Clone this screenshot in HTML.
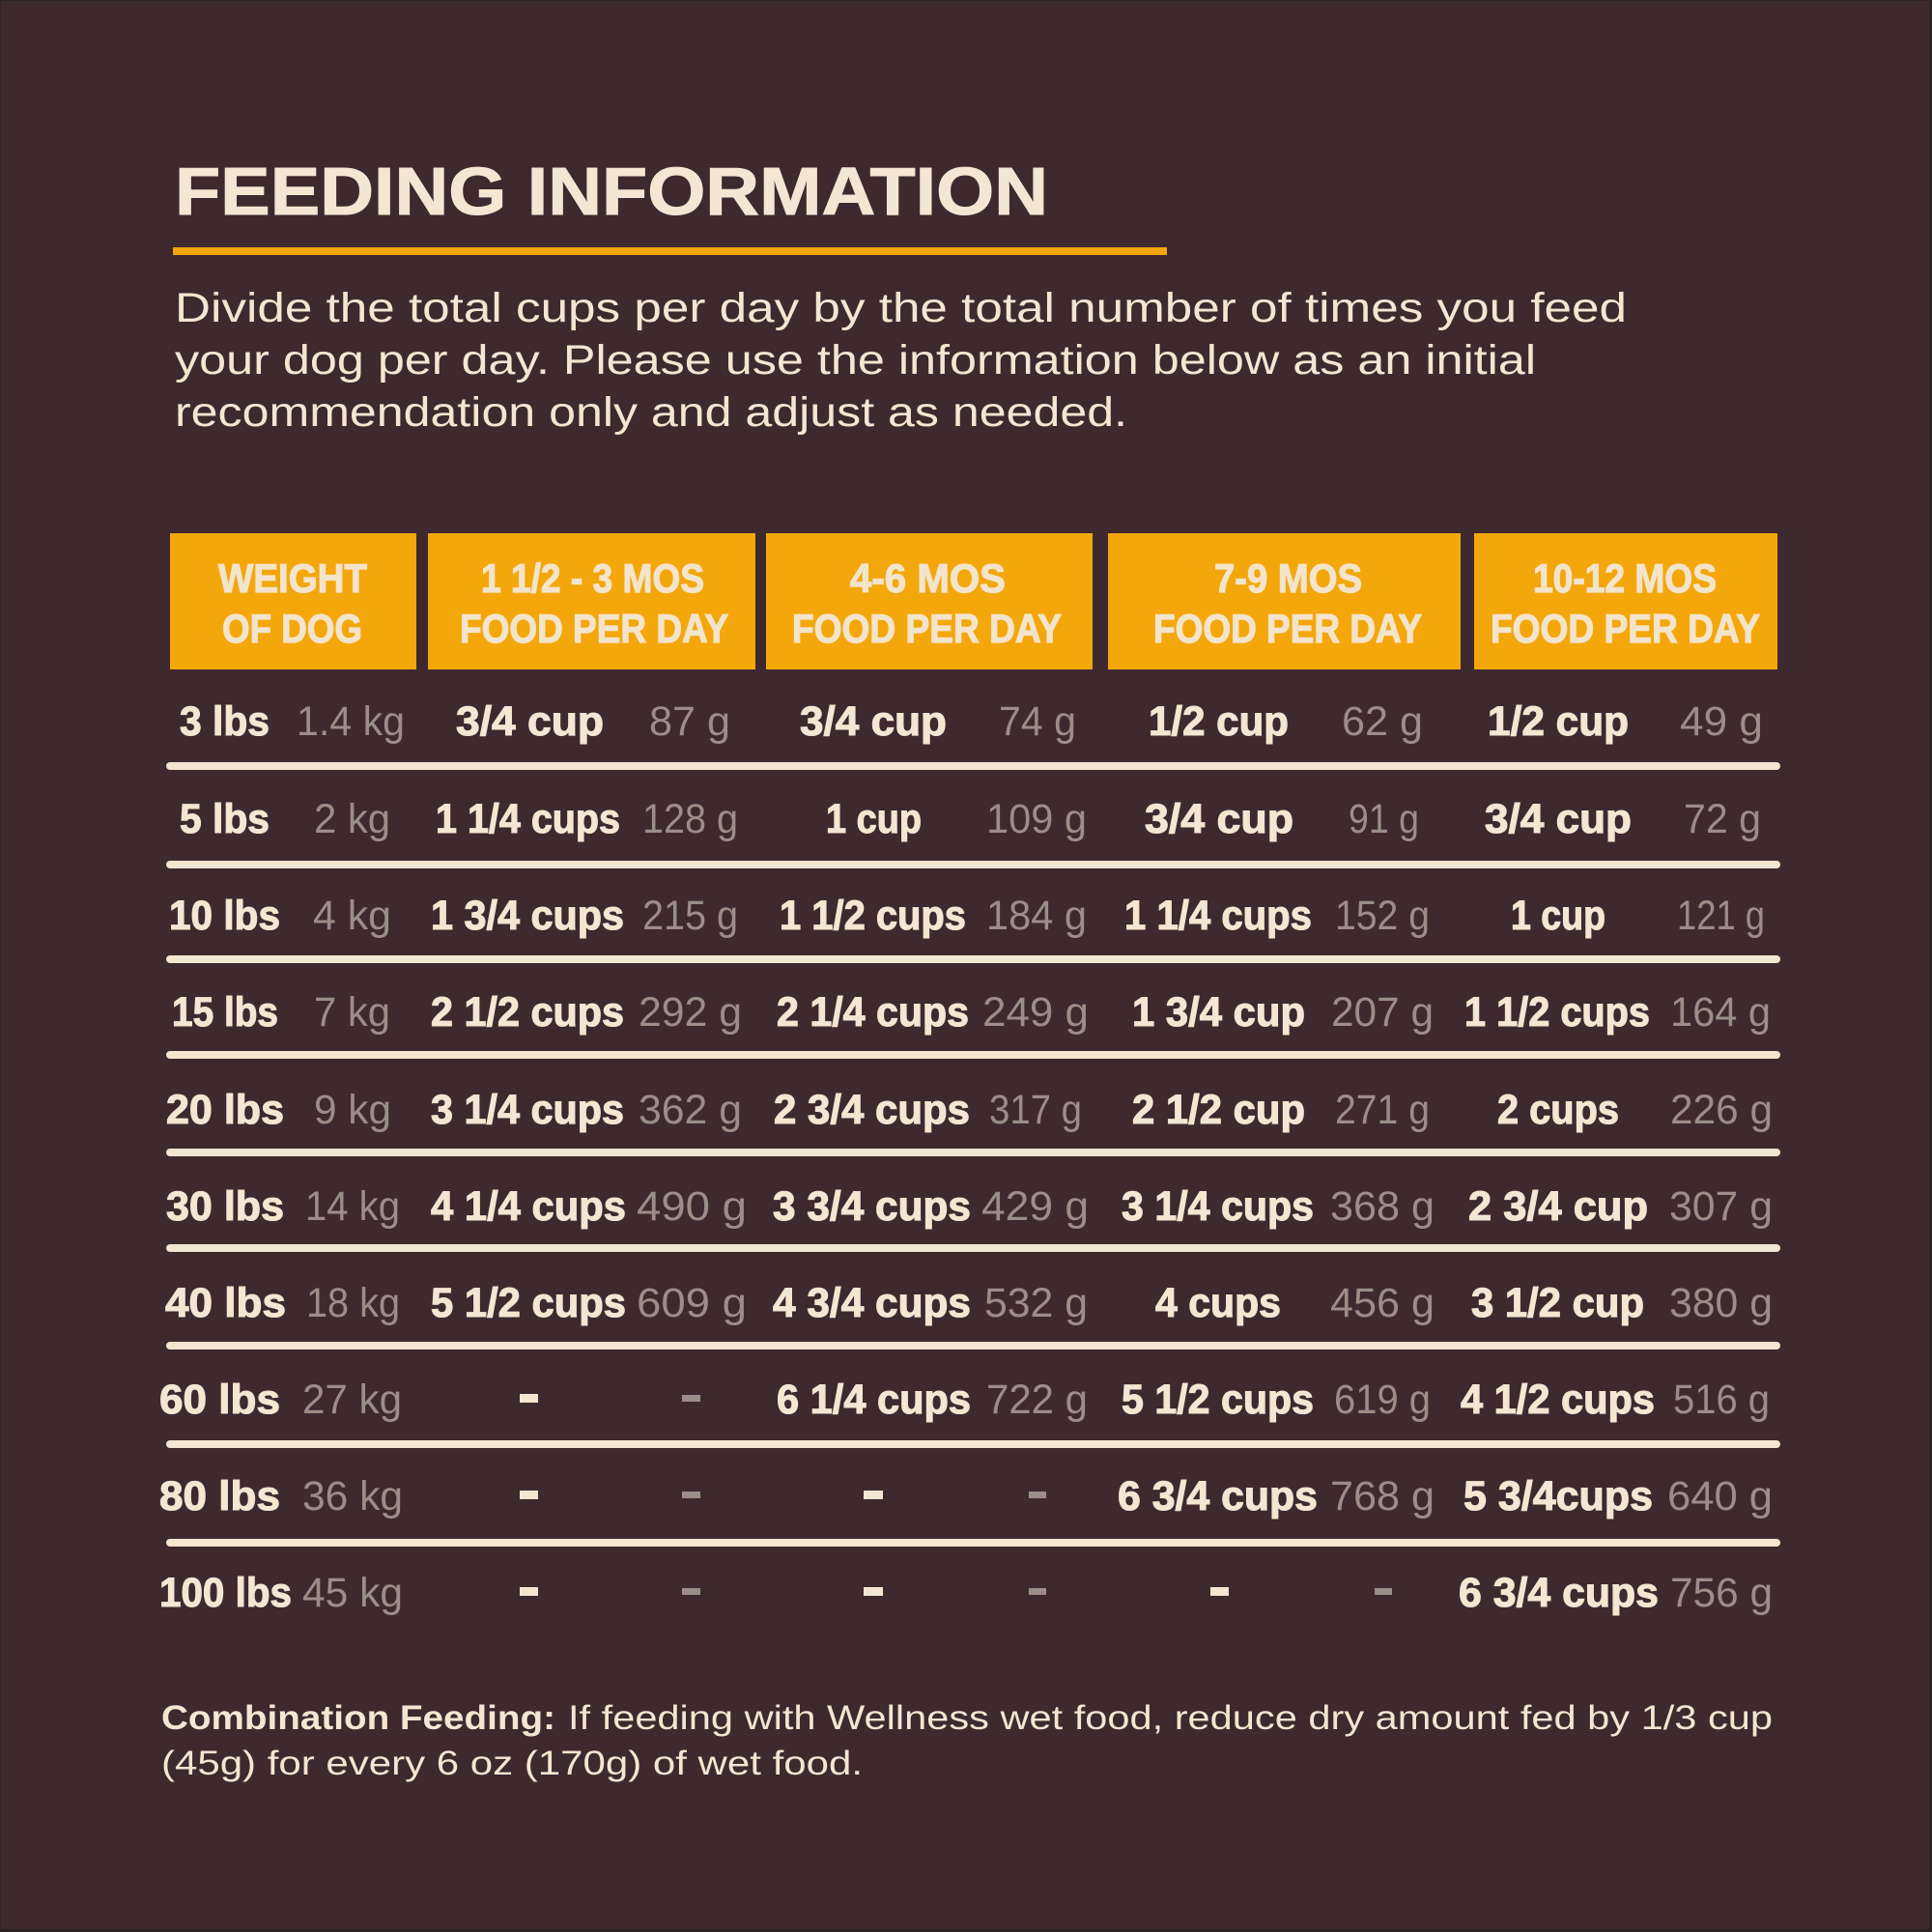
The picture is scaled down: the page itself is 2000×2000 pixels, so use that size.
<!DOCTYPE html>
<html>
<head>
<meta charset="utf-8">
<style>
  html, body { margin:0; padding:0; background:#3d292e; }
  svg { display:block; }
  .t  { font-family:"Liberation Sans", sans-serif; font-weight:bold; font-size:70px; fill:#f3e6d2; stroke:#f3e6d2; stroke-width:1; }
  .p  { font-family:"Liberation Sans", sans-serif; font-size:43px; fill:#f3e6d2; }
  .h  { font-family:"Liberation Sans", sans-serif; font-weight:bold; font-size:42px; fill:#f3e4cc; stroke:#f3e4cc; stroke-width:1.2; }
  .b  { font-family:"Liberation Sans", sans-serif; font-weight:bold; font-size:43px; fill:#f3e6d2; stroke:#f3e6d2; stroke-width:1.1; }
  .g  { font-family:"Liberation Sans", sans-serif; font-size:43px; fill:#9b8d89; }
  .fb { font-family:"Liberation Sans", sans-serif; font-weight:bold; font-size:35px; fill:#f3e6d2; }
  .fr { font-family:"Liberation Sans", sans-serif; font-size:35px; fill:#f3e6d2; }
</style>
</head>
<body>
<svg xmlns="http://www.w3.org/2000/svg" width="2000" height="2000" viewBox="0 0 2000 2000">
  <rect x="0" y="0" width="2000" height="2000" fill="#3d292e"/>
  <rect x="0" y="0" width="2000" height="1" fill="#2b2527"/>
  <rect x="0" y="0" width="1" height="2000" fill="#2b2527"/>
  <rect x="1997" y="0" width="3" height="2000" fill="#2b2224"/>
  <rect x="0" y="1997" width="2000" height="3" fill="#2b2224"/>

  <!-- Title -->
  <text class="t" x="181" y="222" textLength="904" lengthAdjust="spacingAndGlyphs">FEEDING INFORMATION</text>
  <rect x="179" y="256" width="1029" height="8" fill="#f2a50c"/>

  <!-- Paragraph -->
  <text class="p" x="181" y="333" textLength="1503" lengthAdjust="spacingAndGlyphs">Divide the total cups per day by the total number of times you feed</text>
  <text class="p" x="181" y="387" textLength="1409" lengthAdjust="spacingAndGlyphs">your dog per day. Please use the information below as an initial</text>
  <text class="p" x="181" y="441" textLength="986" lengthAdjust="spacingAndGlyphs">recommendation only and adjust as needed.</text>

  <!-- Header boxes -->
  <rect x="176" y="552" width="255" height="141" fill="#f4a70b"/>
  <rect x="443" y="552" width="339" height="141" fill="#f4a70b"/>
  <rect x="793" y="552" width="338" height="141" fill="#f4a70b"/>
  <rect x="1147" y="552" width="365" height="141" fill="#f4a70b"/>
  <rect x="1526" y="552" width="314" height="141" fill="#f4a70b"/>

  <text class="h" x="226" y="613" textLength="154" lengthAdjust="spacingAndGlyphs">WEIGHT</text>
  <text class="h" x="230" y="665" textLength="145" lengthAdjust="spacingAndGlyphs">OF DOG</text>
  <text class="h" x="498" y="613" textLength="231" lengthAdjust="spacingAndGlyphs">1 1/2 - 3 MOS</text>
  <text class="h" x="476" y="665" textLength="278" lengthAdjust="spacingAndGlyphs">FOOD PER DAY</text>
  <text class="h" x="880" y="613" textLength="161" lengthAdjust="spacingAndGlyphs">4-6 MOS</text>
  <text class="h" x="820" y="665" textLength="279" lengthAdjust="spacingAndGlyphs">FOOD PER DAY</text>
  <text class="h" x="1257" y="613" textLength="153" lengthAdjust="spacingAndGlyphs">7-9 MOS</text>
  <text class="h" x="1194" y="665" textLength="278" lengthAdjust="spacingAndGlyphs">FOOD PER DAY</text>
  <text class="h" x="1587" y="613" textLength="190" lengthAdjust="spacingAndGlyphs">10-12 MOS</text>
  <text class="h" x="1543" y="665" textLength="279" lengthAdjust="spacingAndGlyphs">FOOD PER DAY</text>

  <!-- Separators -->
  <g stroke="#f3e6d2" stroke-width="8" stroke-linecap="round">
    <line x1="176" y1="793" x2="1839" y2="793"/>
    <line x1="176" y1="895" x2="1839" y2="895"/>
    <line x1="176" y1="993" x2="1839" y2="993"/>
    <line x1="176" y1="1092" x2="1839" y2="1092"/>
    <line x1="176" y1="1193" x2="1839" y2="1193"/>
    <line x1="176" y1="1292" x2="1839" y2="1292"/>
    <line x1="176" y1="1393" x2="1839" y2="1393"/>
    <line x1="176" y1="1495" x2="1839" y2="1495"/>
    <line x1="176" y1="1597" x2="1839" y2="1597"/>
  </g>

  <!-- Row 1 -->
  <text class="b" x="186" y="761" textLength="93" lengthAdjust="spacingAndGlyphs">3 lbs</text>
  <text class="g" x="307" y="761" textLength="112" lengthAdjust="spacingAndGlyphs">1.4 kg</text>
  <text class="b" x="472" y="761" textLength="153" lengthAdjust="spacingAndGlyphs">3/4 cup</text>
  <text class="g" x="672" y="761" textLength="84" lengthAdjust="spacingAndGlyphs">87 g</text>
  <text class="b" x="828" y="761" textLength="152" lengthAdjust="spacingAndGlyphs">3/4 cup</text>
  <text class="g" x="1034" y="761" textLength="80" lengthAdjust="spacingAndGlyphs">74 g</text>
  <text class="b" x="1189" y="761" textLength="145" lengthAdjust="spacingAndGlyphs">1/2 cup</text>
  <text class="g" x="1389" y="761" textLength="84" lengthAdjust="spacingAndGlyphs">62 g</text>
  <text class="b" x="1540" y="761" textLength="146" lengthAdjust="spacingAndGlyphs">1/2 cup</text>
  <text class="g" x="1739" y="761" textLength="86" lengthAdjust="spacingAndGlyphs">49 g</text>

  <!-- Row 2 -->
  <text class="b" x="186" y="862" textLength="93" lengthAdjust="spacingAndGlyphs">5 lbs</text>
  <text class="g" x="325" y="862" textLength="79" lengthAdjust="spacingAndGlyphs">2 kg</text>
  <text class="b" x="451" y="862" textLength="191" lengthAdjust="spacingAndGlyphs">1 1/4 cups</text>
  <text class="g" x="665" y="862" textLength="99" lengthAdjust="spacingAndGlyphs">128 g</text>
  <text class="b" x="855" y="862" textLength="99" lengthAdjust="spacingAndGlyphs">1 cup</text>
  <text class="g" x="1021" y="862" textLength="104" lengthAdjust="spacingAndGlyphs">109 g</text>
  <text class="b" x="1185" y="862" textLength="154" lengthAdjust="spacingAndGlyphs">3/4 cup</text>
  <text class="g" x="1396" y="862" textLength="73" lengthAdjust="spacingAndGlyphs">91 g</text>
  <text class="b" x="1537" y="862" textLength="152" lengthAdjust="spacingAndGlyphs">3/4 cup</text>
  <text class="g" x="1743" y="862" textLength="80" lengthAdjust="spacingAndGlyphs">72 g</text>

  <!-- Row 3 -->
  <text class="b" x="175" y="962" textLength="115" lengthAdjust="spacingAndGlyphs">10 lbs</text>
  <text class="g" x="324" y="962" textLength="81" lengthAdjust="spacingAndGlyphs">4 kg</text>
  <text class="b" x="446" y="962" textLength="200" lengthAdjust="spacingAndGlyphs">1 3/4 cups</text>
  <text class="g" x="665" y="962" textLength="99" lengthAdjust="spacingAndGlyphs">215 g</text>
  <text class="b" x="807" y="962" textLength="193" lengthAdjust="spacingAndGlyphs">1 1/2 cups</text>
  <text class="g" x="1021" y="962" textLength="104" lengthAdjust="spacingAndGlyphs">184 g</text>
  <text class="b" x="1164" y="962" textLength="194" lengthAdjust="spacingAndGlyphs">1 1/4 cups</text>
  <text class="g" x="1382" y="962" textLength="98" lengthAdjust="spacingAndGlyphs">152 g</text>
  <text class="b" x="1564" y="962" textLength="98" lengthAdjust="spacingAndGlyphs">1 cup</text>
  <text class="g" x="1736" y="962" textLength="91" lengthAdjust="spacingAndGlyphs">121 g</text>

  <!-- Row 4 -->
  <text class="b" x="178" y="1062" textLength="110" lengthAdjust="spacingAndGlyphs">15 lbs</text>
  <text class="g" x="325" y="1062" textLength="79" lengthAdjust="spacingAndGlyphs">7 kg</text>
  <text class="b" x="446" y="1062" textLength="200" lengthAdjust="spacingAndGlyphs">2 1/2 cups</text>
  <text class="g" x="661" y="1062" textLength="107" lengthAdjust="spacingAndGlyphs">292 g</text>
  <text class="b" x="804" y="1062" textLength="199" lengthAdjust="spacingAndGlyphs">2 1/4 cups</text>
  <text class="g" x="1017" y="1062" textLength="110" lengthAdjust="spacingAndGlyphs">249 g</text>
  <text class="b" x="1172" y="1062" textLength="179" lengthAdjust="spacingAndGlyphs">1 3/4 cup</text>
  <text class="g" x="1378" y="1062" textLength="106" lengthAdjust="spacingAndGlyphs">207 g</text>
  <text class="b" x="1516" y="1062" textLength="192" lengthAdjust="spacingAndGlyphs">1 1/2 cups</text>
  <text class="g" x="1729" y="1062" textLength="104" lengthAdjust="spacingAndGlyphs">164 g</text>

  <!-- Row 5 -->
  <text class="b" x="172" y="1163" textLength="122" lengthAdjust="spacingAndGlyphs">20 lbs</text>
  <text class="g" x="325" y="1163" textLength="80" lengthAdjust="spacingAndGlyphs">9 kg</text>
  <text class="b" x="446" y="1163" textLength="200" lengthAdjust="spacingAndGlyphs">3 1/4 cups</text>
  <text class="g" x="661" y="1163" textLength="107" lengthAdjust="spacingAndGlyphs">362 g</text>
  <text class="b" x="801" y="1163" textLength="203" lengthAdjust="spacingAndGlyphs">2 3/4 cups</text>
  <text class="g" x="1024" y="1163" textLength="96" lengthAdjust="spacingAndGlyphs">317 g</text>
  <text class="b" x="1172" y="1163" textLength="179" lengthAdjust="spacingAndGlyphs">2 1/2 cup</text>
  <text class="g" x="1382" y="1163" textLength="98" lengthAdjust="spacingAndGlyphs">271 g</text>
  <text class="b" x="1550" y="1163" textLength="126" lengthAdjust="spacingAndGlyphs">2 cups</text>
  <text class="g" x="1729" y="1163" textLength="106" lengthAdjust="spacingAndGlyphs">226 g</text>

  <!-- Row 6 -->
  <text class="b" x="172" y="1263" textLength="122" lengthAdjust="spacingAndGlyphs">30 lbs</text>
  <text class="g" x="316" y="1263" textLength="98" lengthAdjust="spacingAndGlyphs">14 kg</text>
  <text class="b" x="446" y="1263" textLength="202" lengthAdjust="spacingAndGlyphs">4 1/4 cups</text>
  <text class="g" x="659" y="1263" textLength="114" lengthAdjust="spacingAndGlyphs">490 g</text>
  <text class="b" x="800" y="1263" textLength="205" lengthAdjust="spacingAndGlyphs">3 3/4 cups</text>
  <text class="g" x="1016" y="1263" textLength="111" lengthAdjust="spacingAndGlyphs">429 g</text>
  <text class="b" x="1161" y="1263" textLength="199" lengthAdjust="spacingAndGlyphs">3 1/4 cups</text>
  <text class="g" x="1377" y="1263" textLength="108" lengthAdjust="spacingAndGlyphs">368 g</text>
  <text class="b" x="1520" y="1263" textLength="186" lengthAdjust="spacingAndGlyphs">2 3/4 cup</text>
  <text class="g" x="1728" y="1263" textLength="107" lengthAdjust="spacingAndGlyphs">307 g</text>

  <!-- Row 7 -->
  <text class="b" x="171" y="1363" textLength="125" lengthAdjust="spacingAndGlyphs">40 lbs</text>
  <text class="g" x="317" y="1363" textLength="97" lengthAdjust="spacingAndGlyphs">18 kg</text>
  <text class="b" x="446" y="1363" textLength="202" lengthAdjust="spacingAndGlyphs">5 1/2 cups</text>
  <text class="g" x="659" y="1363" textLength="114" lengthAdjust="spacingAndGlyphs">609 g</text>
  <text class="b" x="800" y="1363" textLength="205" lengthAdjust="spacingAndGlyphs">4 3/4 cups</text>
  <text class="g" x="1019" y="1363" textLength="107" lengthAdjust="spacingAndGlyphs">532 g</text>
  <text class="b" x="1196" y="1363" textLength="130" lengthAdjust="spacingAndGlyphs">4 cups</text>
  <text class="g" x="1377" y="1363" textLength="108" lengthAdjust="spacingAndGlyphs">456 g</text>
  <text class="b" x="1523" y="1363" textLength="179" lengthAdjust="spacingAndGlyphs">3 1/2 cup</text>
  <text class="g" x="1728" y="1363" textLength="107" lengthAdjust="spacingAndGlyphs">380 g</text>

  <!-- Row 8 -->
  <text class="b" x="165" y="1463" textLength="125" lengthAdjust="spacingAndGlyphs">60 lbs</text>
  <text class="g" x="313" y="1463" textLength="103" lengthAdjust="spacingAndGlyphs">27 kg</text>
  <rect x="538" y="1443" width="19" height="9" fill="#f3e6d2"/>
  <rect x="706" y="1444" width="19" height="7" fill="#9b8d89"/>
  <text class="b" x="804" y="1463" textLength="201" lengthAdjust="spacingAndGlyphs">6 1/4 cups</text>
  <text class="g" x="1021" y="1463" textLength="105" lengthAdjust="spacingAndGlyphs">722 g</text>
  <text class="b" x="1161" y="1463" textLength="199" lengthAdjust="spacingAndGlyphs">5 1/2 cups</text>
  <text class="g" x="1381" y="1463" textLength="100" lengthAdjust="spacingAndGlyphs">619 g</text>
  <text class="b" x="1512" y="1463" textLength="201" lengthAdjust="spacingAndGlyphs">4 1/2 cups</text>
  <text class="g" x="1732" y="1463" textLength="100" lengthAdjust="spacingAndGlyphs">516 g</text>

  <!-- Row 9 -->
  <text class="b" x="165" y="1563" textLength="125" lengthAdjust="spacingAndGlyphs">80 lbs</text>
  <text class="g" x="313" y="1563" textLength="104" lengthAdjust="spacingAndGlyphs">36 kg</text>
  <rect x="538" y="1543" width="19" height="9" fill="#f3e6d2"/>
  <rect x="706" y="1544" width="19" height="7" fill="#9b8d89"/>
  <rect x="894" y="1543" width="20" height="9" fill="#f3e6d2"/>
  <rect x="1065" y="1544" width="18" height="7" fill="#9b8d89"/>
  <text class="b" x="1157" y="1563" textLength="207" lengthAdjust="spacingAndGlyphs">6 3/4 cups</text>
  <text class="g" x="1377" y="1563" textLength="108" lengthAdjust="spacingAndGlyphs">768 g</text>
  <text class="b" x="1515" y="1563" textLength="196" lengthAdjust="spacingAndGlyphs">5 3/4cups</text>
  <text class="g" x="1726" y="1563" textLength="109" lengthAdjust="spacingAndGlyphs">640 g</text>

  <!-- Row 10 -->
  <text class="b" x="165" y="1663" textLength="137" lengthAdjust="spacingAndGlyphs">100 lbs</text>
  <text class="g" x="313" y="1663" textLength="104" lengthAdjust="spacingAndGlyphs">45 kg</text>
  <rect x="538" y="1643" width="19" height="9" fill="#f3e6d2"/>
  <rect x="706" y="1644" width="19" height="7" fill="#9b8d89"/>
  <rect x="894" y="1643" width="20" height="9" fill="#f3e6d2"/>
  <rect x="1065" y="1644" width="18" height="7" fill="#9b8d89"/>
  <rect x="1253" y="1643" width="19" height="9" fill="#f3e6d2"/>
  <rect x="1423" y="1644" width="18" height="7" fill="#9b8d89"/>
  <text class="b" x="1510" y="1663" textLength="207" lengthAdjust="spacingAndGlyphs">6 3/4 cups</text>
  <text class="g" x="1729" y="1663" textLength="106" lengthAdjust="spacingAndGlyphs">756 g</text>

  <!-- Footer -->
  <text class="fb" x="167" y="1790" textLength="408" lengthAdjust="spacingAndGlyphs">Combination Feeding:</text>
  <text class="fr" x="588" y="1790" textLength="1247" lengthAdjust="spacingAndGlyphs">If feeding with Wellness wet food, reduce dry amount fed by 1/3 cup</text>
  <text class="fr" x="167" y="1837" textLength="726" lengthAdjust="spacingAndGlyphs">(45g) for every 6 oz (170g) of wet food.</text>
</svg>
</body>
</html>
